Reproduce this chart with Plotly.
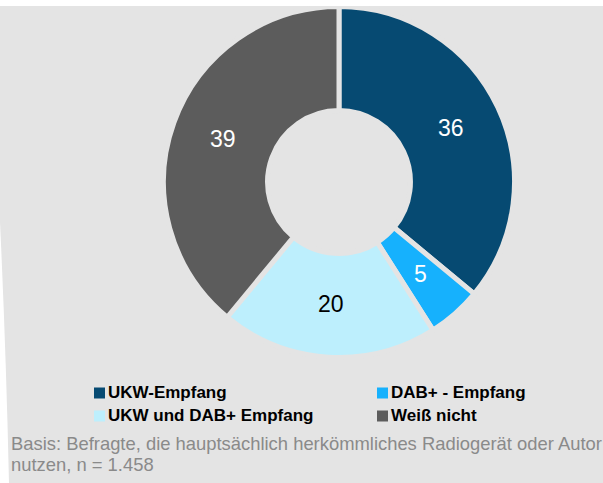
import math
import plotly.graph_objects as go

# ---- data ----
labels = ["UKW-Empfang", "DAB+ - Empfang", "UKW und DAB+ Empfang", "Weiß nicht"]
values = [36, 5, 20, 39]
colors = ["#064a72", "#16b1fd", "#bdeffd", "#5c5c5c"]
text_colors = ["white", "white", "black", "white"]
footnote_lines = [
    "Basis: Befragte, die hauptsächlich herkömmliches Radiogerät oder Autor",
    "nutzen, n = 1.458",
]

W, H = 603, 483
BG = "#e4e4e4"
FONT = "Arial, Liberation Sans, Helvetica, sans-serif"


def px(x):
    return x / W


def py(y):
    return 1 - y / H


# pie geometry (pixels)
cx, cy, R = 339, 182, 175.5
hole_frac = 0.407

fig = go.Figure()
fig.add_trace(go.Pie(
    labels=labels,
    values=values,
    sort=False,
    direction="clockwise",
    rotation=0,
    hole=hole_frac,
    marker=dict(colors=colors, line=dict(color=BG, width=5)),
    textinfo="none",
    domain=dict(x=[px(cx - R), px(cx + R)], y=[py(cy + R), py(cy - R)]),
    showlegend=False,
    hoverinfo="label+value",
))

shapes = [
    # white strip at top
    dict(type="rect", xref="paper", yref="paper", x0=0, x1=1, y0=py(6), y1=1,
         fillcolor="white", line_width=0, layer="above"),
    # white sliver on the left edge
    dict(type="path", xref="paper", yref="paper",
         path=f"M 0 {py(222)} Q {px(6)} {py(350)} {px(9)} {py(483)} L 0 {py(483)} Z",
         fillcolor="white", line_width=0, layer="above"),
]
annotations = []

# value labels at the middle of each ring sector (derived from the values)
total = sum(values)
r_mid = ((R - 2.5) + (hole_frac * R + 2.5)) / 2
cum = 0
for v, tc in zip(values, text_colors):
    ang = (cum + v / 2) / total * 2 * math.pi
    cum += v
    annotations.append(dict(xref="paper", yref="paper",
                            x=px(cx + r_mid * math.sin(ang)),
                            y=py(cy - r_mid * math.cos(ang) - 1),
                            xanchor="center", yanchor="middle", showarrow=False,
                            text=str(v), font=dict(family=FONT, size=23, color=tc)))

# manual legend (two columns)
col_x = [94, 377]
row_y = [392.5, 415.5]
order = [(0, 0, 0), (1, 1, 0), (2, 0, 1), (3, 1, 1)]  # (idx, col, row)
msize = 11
for idx, c, r in order:
    x0 = col_x[c]
    yc = row_y[r]
    shapes.append(dict(type="rect", xref="paper", yref="paper",
                       x0=px(x0), x1=px(x0 + msize),
                       y0=py(yc + msize / 2 + 0.5), y1=py(yc - msize / 2 + 0.5),
                       fillcolor=colors[idx], line_width=0))
    annotations.append(dict(xref="paper", yref="paper", x=px(x0 + msize + 1), y=py(yc),
                            xanchor="left", yanchor="middle", showarrow=False,
                            text=f"<b>{labels[idx]}</b>",
                            font=dict(family=FONT, size=17, color="black")))

# footnote
foot_y = [443, 464.5]
for line, yc in zip(footnote_lines, foot_y):
    annotations.append(dict(xref="paper", yref="paper", x=px(9), y=py(yc),
                            xanchor="left", yanchor="middle", showarrow=False,
                            text=line,
                            font=dict(family=FONT, size=18.4, color="#8a8a8a")))

fig.update_layout(
    width=W, height=H,
    margin=dict(l=0, r=0, t=0, b=0),
    paper_bgcolor=BG,
    plot_bgcolor=BG,
    shapes=shapes,
    annotations=annotations,
)

fig.write_html("out.html",
               config={"displayModeBar": False},
               post_script="document.body.style.margin='0px';document.body.style.overflow='hidden';")
